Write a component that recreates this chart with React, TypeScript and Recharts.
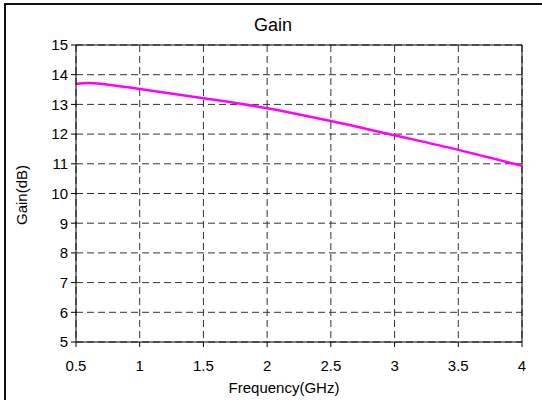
import React from 'react';
import { LineChart, Line, XAxis, YAxis, CartesianGrid, ReferenceLine } from 'recharts';

const freq = [0.5, 0.6, 0.8, 1.0, 1.5, 2.0, 2.5, 3.0, 3.5, 4.0];
const gain = [13.69, 13.72, 13.64, 13.52, 13.21, 12.87, 12.44, 11.96, 11.47, 10.93];
const xTicks = [0.5, 1, 1.5, 2, 2.5, 3, 3.5, 4];
const yTicks = [5, 6, 7, 8, 9, 10, 11, 12, 13, 14, 15];

const data = freq.map((f, i) => ({ f, g: gain[i] }));

const font = '"Liberation Sans", Arial, sans-serif';

export default function App() {
  return (
    <div style={{ position: 'absolute', left: 0, top: 0, width: 542, height: 400, background: '#fff', fontFamily: font }}>
      <div style={{ position: 'absolute', left: 4, top: 3, width: 540, height: 400, borderTop: '2px solid #111', borderLeft: '2px solid #111' }} />
      <div style={{ position: 'absolute', left: 0, top: 0 }}>
        <LineChart width={542} height={400} data={data} margin={{ top: 45, right: 20, bottom: 0, left: 16 }}>
          <CartesianGrid stroke="#333" strokeDasharray="7 4" />
          <XAxis
            dataKey="f"
            type="number"
            domain={[0.5, 4]}
            ticks={xTicks}
            height={58}
            tickSize={5}
            tickMargin={13}
            axisLine={{ stroke: '#000', strokeWidth: 1 }}
            tickLine={{ stroke: '#000' }}
            tick={{ fill: '#000', fontSize: 15, fontFamily: font }}
            interval={0}
          />
          <YAxis
            type="number"
            domain={[5, 15]}
            ticks={yTicks}
            width={60}
            tickSize={5}
            tickMargin={3}
            axisLine={{ stroke: '#000', strokeWidth: 1 }}
            tickLine={{ stroke: '#000' }}
            tick={{ fill: '#000', fontSize: 15, fontFamily: font }}
            interval={0}
          />
          <ReferenceLine y={15} stroke="#000" strokeWidth={1} />
          <ReferenceLine x={4} stroke="#000" strokeWidth={1} />
          <Line type="monotone" dataKey="g" stroke="#ff00ff" strokeWidth={2.5} dot={false} isAnimationActive={false} />
        </LineChart>
      </div>
      <div style={{ position: 'absolute', left: 0, width: 546, top: 15, textAlign: 'center', fontSize: 18, color: '#000', lineHeight: '20px' }}>Gain</div>
      <div style={{ position: 'absolute', left: 184, width: 200, top: 380, textAlign: 'center', fontSize: 15, color: '#000', lineHeight: '16px' }}>Frequency(GHz)</div>
      <div style={{ position: 'absolute', left: 22 - 60, width: 120, top: 195 - 8, textAlign: 'center', fontSize: 15, color: '#000', lineHeight: '16px', transform: 'rotate(-90deg)' }}>Gain(dB)</div>
    </div>
  );
}
